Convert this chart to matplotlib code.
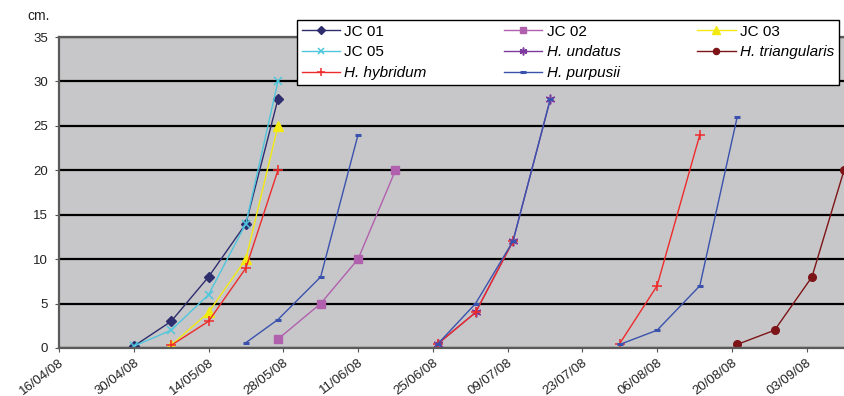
import datetime as dt
import matplotlib.pyplot as plt
import matplotlib.dates as mdates

plt.rcParams['font.family'] = ['Liberation Sans', 'DejaVu Sans']

# growth in cm (dates dd/mm/yy)
jc01_dates = ['30/04/08', '07/05/08', '14/05/08', '21/05/08', '27/05/08']
jc01_cm = [0.2, 3, 8, 14, 28]
jc02_dates = ['27/05/08', '04/06/08', '11/06/08', '18/06/08']
jc02_cm = [1, 5, 10, 20]
jc03_dates = ['07/05/08', '14/05/08', '21/05/08', '27/05/08']
jc03_cm = [0.3, 4, 10, 25]
jc05_dates = ['30/04/08', '07/05/08', '14/05/08', '21/05/08', '27/05/08']
jc05_cm = [0.2, 2, 6, 14, 30]
undatus_dates = ['26/06/08', '03/07/08', '10/07/08', '17/07/08']
undatus_cm = [0.5, 4, 12, 28]
triang_dates = ['21/08/08', '28/08/08', '04/09/08', '10/09/08']
triang_cm = [0.4, 2, 8, 20]
# these two were sown three times -> three separate pieces
hybridum_dates = [['07/05/08', '14/05/08', '21/05/08', '27/05/08'],
                  ['26/06/08', '03/07/08', '10/07/08'],
                  ['30/07/08', '06/08/08', '14/08/08']]
hybridum_cm = [[0.3, 3, 9, 20], [0.5, 4, 12], [0.5, 7, 24]]
purpusii_dates = [['21/05/08', '27/05/08', '04/06/08', '11/06/08'],
                  ['26/06/08', '03/07/08', '10/07/08', '17/07/08'],
                  ['30/07/08', '06/08/08', '14/08/08', '21/08/08']]
purpusii_cm = [[0.6, 3.2, 8, 24], [0.5, 5, 12, 28], [0.4, 2, 7, 26]]

tick_dates = ['16/04/08', '30/04/08', '14/05/08', '28/05/08', '11/06/08', '25/06/08',
              '09/07/08', '23/07/08', '06/08/08', '20/08/08', '03/09/08']
x_start, x_end = '16/04/08', '10/09/08'


def d(s):
    return dt.datetime.strptime(s, '%d/%m/%y')


series = [
    ('JC 01', [jc01_dates], [jc01_cm], dict(color='#2e2d6e', marker='D', ms=5)),
    ('JC 02', [jc02_dates], [jc02_cm], dict(color='#b160ae', marker='s', ms=5.5)),
    ('JC 03', [jc03_dates], [jc03_cm], dict(color='#f2ea10', marker='^', ms=7)),
    ('JC 05', [jc05_dates], [jc05_cm], dict(color='#4ec6dc', marker='x', ms=6, mew=1.1)),
    ('H. undatus', [undatus_dates], [undatus_cm], dict(color='#7d3a9c', marker=(6, 2, 0), ms=7, mew=1.1)),
    ('H. triangularis', [triang_dates], [triang_cm], dict(color='#7d1417', marker='o', ms=5.5)),
    ('H. hybridum', hybridum_dates, hybridum_cm, dict(color='#ee2a2a', marker='+', ms=7, mew=1.1)),
    ('H. purpusii', purpusii_dates, purpusii_cm, dict(color='#3a52ad', marker='_', ms=5, mew=2.2)),
]

fig = plt.figure(figsize=(8.44, 3.96), dpi=100)
ax = fig.add_axes([59 / 844, 1 - 348 / 396, 1 - 59 / 844, (348 - 37) / 396])
ax.set_facecolor('#c7c7c9')

handles = {}
for name, dl, vl, st in series:
    for dates, vals in zip(dl, vl):
        ln, = ax.plot([d(s) for s in dates], vals, lw=1.0, **st)
    handles[name] = ln

ax.set_xlim(d(x_start), d(x_end))
ax.set_ylim(0, 35)
ax.set_yticks(range(0, 36, 5))
ax.set_xticks([d(s) for s in tick_dates])
ax.xaxis.set_major_formatter(mdates.DateFormatter('%d/%m/%y'))
plt.setp(ax.get_xticklabels(), rotation=37, ha='right', rotation_mode='anchor')
ax.tick_params(axis='both', labelsize=9.5, colors='#222222', direction='out', length=3)
ax.tick_params(axis='x', pad=3, color='#555555')
ax.tick_params(axis='y', pad=5, color='#555555')

ax.grid(axis='y', color='black', lw=1.6)
ax.set_axisbelow(True)
for side in ['left', 'bottom', 'top']:
    ax.spines[side].set_color('#5a5a5a')
    ax.spines[side].set_linewidth(1.6)
ax.spines['right'].set_visible(False)

fig.text(27 / 844, 1 - 20 / 396, 'cm.', fontsize=10, color='#222222')

# legend fills column by column, so order it to read row-wise like the original
order = ['JC 01', 'JC 05', 'H. hybridum', 'JC 02', 'H. undatus', 'H. purpusii',
         'JC 03', 'H. triangularis']
leg = fig.legend([handles[k] for k in order], order, loc='upper left',
                 bbox_to_anchor=(297 / 844, 1 - 86 / 396, (839 - 297) / 844, 66 / 396),
                 mode='expand', ncol=3, fontsize=11, handlelength=2.5,
                 handletextpad=0.3, labelspacing=0.45, borderpad=0.3,
                 borderaxespad=0, fancybox=False, framealpha=1, edgecolor='black',
                 markerscale=0.8)
leg.get_frame().set_linewidth(1.0)
for t in leg.get_texts():
    if t.get_text().startswith('H.'):
        t.set_fontstyle('italic')

fig.savefig('out.png', dpi=100)
